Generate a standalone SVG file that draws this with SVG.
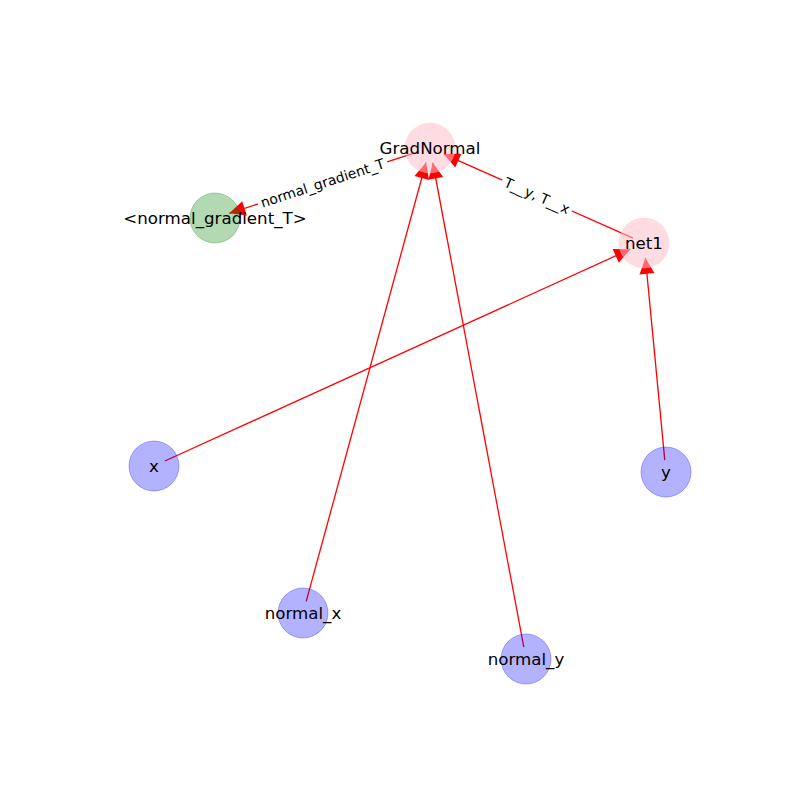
<svg xmlns="http://www.w3.org/2000/svg" width="800" height="800" viewBox="0 0 800 800">
<style>
.edge{stroke:#ff0000;stroke-width:1.3;fill:none;marker-end:url(#arr)}
.pink{fill:#ffc0cb;fill-opacity:0.55;stroke:#ffc0cb;stroke-opacity:0.3;stroke-width:1}
.blue{fill:#0000ff;fill-opacity:0.3;stroke:#0000ff;stroke-opacity:0.3;stroke-width:1}
.green{fill:#008000;fill-opacity:0.3;stroke:#008000;stroke-opacity:0.3;stroke-width:1}
.nl{font-family:"DejaVu Sans",sans-serif;font-size:16.67px;text-anchor:middle;dominant-baseline:central;fill:#000}
.el{font-family:"DejaVu Sans",sans-serif;font-size:13.9px;text-anchor:middle;dominant-baseline:central;fill:#000}
</style>
<defs>
<marker id="arr" markerUnits="userSpaceOnUse" markerWidth="18" markerHeight="16" refX="16" refY="7.5" orient="auto" overflow="visible">
<path d="M0,0 L16,7.5 L0,15 z" fill="#ff0000"/>
</marker>
</defs>
<rect width="800" height="800" fill="#ffffff"/>
<g id="edges">
<path class="edge" d="M418.6,151.7 L229.3,213.3"/>
<path class="edge" d="M633,238.1 L443.7,154.1"/>
<path class="edge" d="M164.9,461 L630.3,249.2"/>
<path class="edge" d="M664.8,460.1 L645.4,257.9"/>
<path class="edge" d="M306.2,601.4 L426,162.5"/>
<path class="edge" d="M523.8,647.2 L432.8,162.7"/>
</g>
<g id="node-GradNormal"><circle class="pink" cx="430" cy="148" r="25"/><text class="nl" x="430" y="148">GradNormal</text></g>
<g id="node-normal_gradient_T"><circle class="green" cx="215" cy="218" r="25"/><text class="nl" x="215" y="218">&lt;normal_gradient_T&gt;</text></g>
<g id="node-net1"><circle class="pink" cx="644" cy="243" r="25"/><text class="nl" x="644" y="243">net1</text></g>
<g id="node-x"><circle class="blue" cx="154" cy="466" r="25"/><text class="nl" x="154" y="466">x</text></g>
<g id="node-y"><circle class="blue" cx="666" cy="472" r="25"/><text class="nl" x="666" y="472">y</text></g>
<g id="node-normal_x"><circle class="blue" cx="303" cy="613" r="25"/><text class="nl" x="303" y="613">normal_x</text></g>
<g id="node-normal_y"><circle class="blue" cx="526" cy="659" r="25"/><text class="nl" x="526" y="659">normal_y</text></g>
<g id="edge-labels">
<g transform="translate(322.5,183) rotate(-18)"><rect x="-68" y="-9" width="136" height="18" fill="#ffffff"/><text class="el" x="0" y="0">normal_gradient_T</text></g>
<g transform="translate(537,195.5) rotate(23.9)"><rect x="-38" y="-9" width="76" height="18" fill="#ffffff"/><text class="el" x="0" y="0">T__y, T__x</text></g>
</g>
</svg>
